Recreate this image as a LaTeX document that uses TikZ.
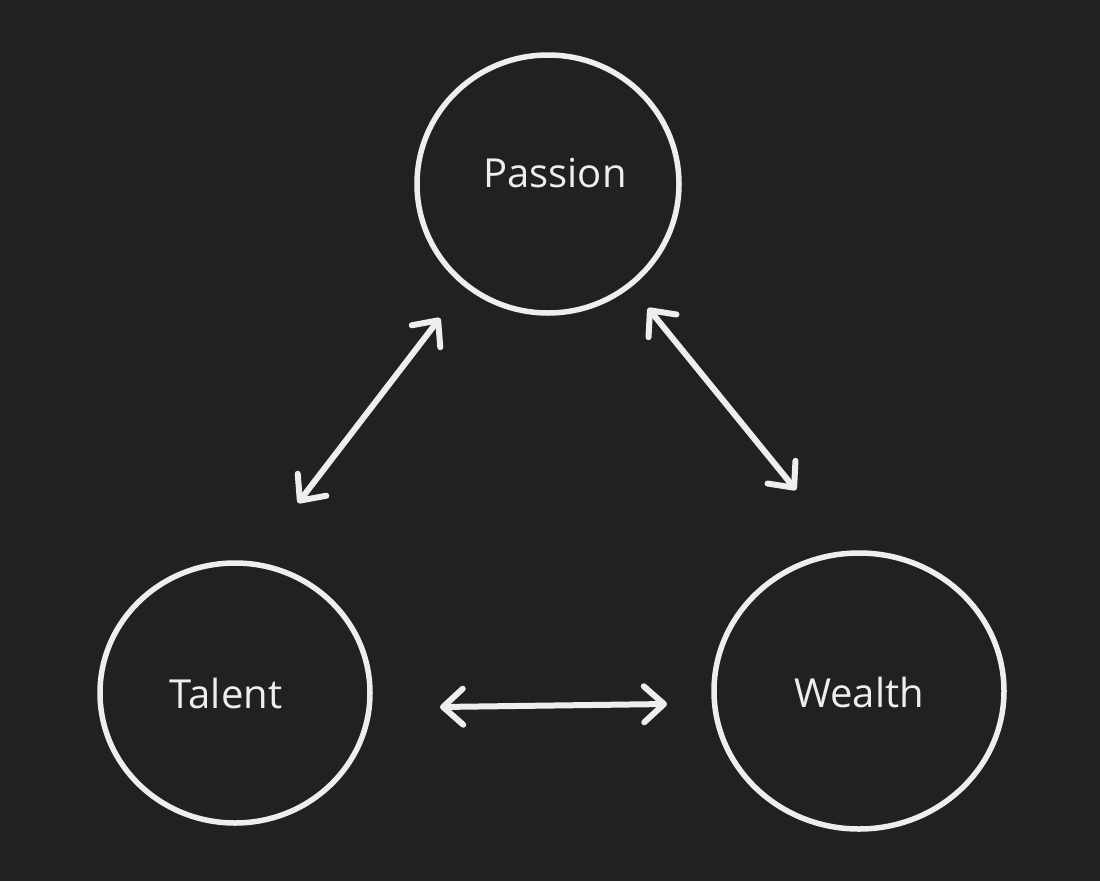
\documentclass[tikz,border=0pt]{standalone}
\usepackage{fontspec}
\setmainfont{Open Sans}
\usetikzlibrary{arrows.meta}
\definecolor{bg}{HTML}{212121}
\definecolor{fg}{HTML}{EEEEEE}
\begin{document}
\begin{tikzpicture}[x=1pt,y=-1pt,
  lbl/.style={text=fg,font=\fontsize{40}{42}\selectfont},
  link/.style={draw=fg,line width=6pt,line cap=round,
    {Straight Barb[length=20pt,width=36pt,round]}-{Straight Barb[length=20pt,width=36pt,round]}}]
\fill[bg] (0,0) rectangle (1100,881);
\useasboundingbox (0,0) rectangle (1100,881);
\draw[fg,line width=5.5pt] (548,184) ellipse [x radius=131,y radius=129];
\draw[fg,line width=5.5pt] (235,693) ellipse [x radius=135,y radius=130];
\draw[fg,line width=5.5pt] (859,691) ellipse [x radius=145,y radius=138];
\node[lbl] (passion) at (555,173) {Passion};
\node[lbl] (talent) at (226,693) {Talent};
\node[lbl] (wealth) at (859,692) {Wealth};
\coordinate (a1) at (298,503);
\coordinate (a2) at (440,318);
\coordinate (b1) at (648,308);
\coordinate (b2) at (796,490);
\coordinate (c1) at (440,707);
\coordinate (c2) at (667,704);
\draw[link] (a1) -- (a2);
\draw[link] (b1) -- (b2);
\draw[link] (c1) -- (c2);
\end{tikzpicture}
\end{document}
